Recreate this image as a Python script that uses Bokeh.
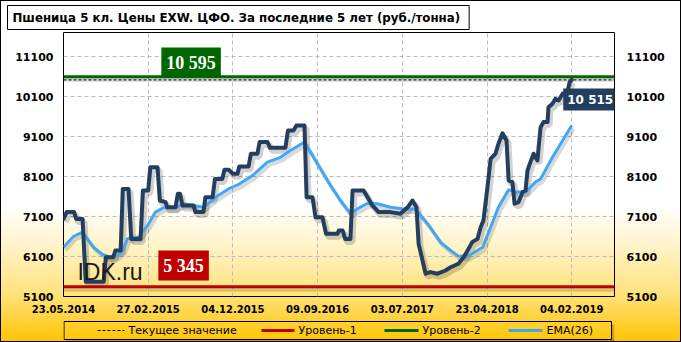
from bokeh.plotting import figure
from bokeh.layouts import column
from bokeh.models import Range1d, FixedTicker, LinearAxis, Label
from bokeh.core.properties import value
from bokeh.embed import file_html
from bokeh.resources import INLINE

# ---------------- data ----------------
title_text = "Пшеница  5 кл. Цены EXW. ЦФО. За последние 5 лет (руб./тонна)"

# observation index (category axis, every 40th observation labelled)
x_ticks = [0, 40, 80, 120, 160, 200, 240]
x_labels = ["23.05.2014", "27.02.2015", "04.12.2015", "09.09.2016",
            "03.07.2017", "23.04.2018", "04.02.2019"]
y_ticks = [5100, 6100, 7100, 8100, 9100, 10100, 11100]

price_idx = [0, 1.5, 5, 6, 9, 10.5, 19, 20, 23.5, 24.5,
             27, 28, 30.7, 32, 36.4, 37.5, 40, 41, 44.4, 45.5,
             48.2, 49, 52.9, 54, 55, 56.2, 61.4, 62.3, 66.1, 67,
             70.4, 71.5, 75, 76, 78, 80, 82.2, 83, 87.4, 88.5,
             91.6, 92.6, 96.3, 97.5, 104.8, 106, 108.6, 110, 113.8, 114.8,
             117.6, 119, 122.3, 124, 129.4, 130, 131.8, 133, 135.5, 136.5,
             141.7, 143.6, 145.9, 148.8, 154.4, 159.1, 162.5, 164.8, 166.7, 167.7,
             171, 173.3, 176.6, 180.4, 182.8, 186.5, 188.9, 190, 193, 195.5,
             197, 198.3, 200.2, 201.7, 204, 205.4, 207.3, 209.2, 210.2, 212,
             213, 214.9, 216.8, 218.2, 219.1, 220.5, 222, 223.8, 224.3, 225.3,
             226.7, 228.6, 229, 230.9, 232.3, 233.8, 235.7, 238, 239, 240]
price_val = [7040, 7210, 7210, 7040, 7040, 5470, 5470, 6080, 6080, 6250,
             6250, 7790, 7790, 6540, 6540, 7750, 7750, 8330, 8330, 7500,
             7460, 7330, 7330, 7670, 7670, 7375, 7375, 7210, 7210, 7580,
             7580, 8040, 8040, 8270, 8270, 8170, 8170, 8350, 8350, 8670,
             8670, 8960, 8960, 8820, 8820, 9250, 9250, 9375, 9375, 7580,
             7580, 7080, 7080, 6670, 6670, 6750, 6750, 6540, 6540, 7750,
             7750, 7580, 7375, 7210, 7210, 7170, 7330, 7500, 7330, 6420,
             5670, 5710, 5670, 5750, 5830, 5920, 6080, 6170, 6460, 6540,
             6830, 7000, 7830, 8540, 8670, 8920, 9180, 9000, 8000, 7960,
             7420, 7460, 7710, 7750, 8250, 8460, 8670, 8500, 8790, 9330,
             9460, 9460, 9830, 9920, 10040, 10000, 10170, 10210, 10460, 10515]

ema_idx = [0, 4.7, 9, 11.3, 14.2, 18.4, 22.2, 25.5, 27.9, 30.2,
           32.6, 35.4, 39.7, 43.4, 47.2, 52.9, 56.7, 61.4, 66.1, 71.8,
           77.9, 82.6, 89.3, 96.3, 102.5, 107.2, 113.8, 120.4, 126.1, 130.8,
           135.5, 138.8, 143.6, 148.3, 154.4, 160.6, 166.2, 171.9, 178, 182.8,
           186.5, 190.8, 197.9, 201.7, 205.4, 210.2, 213.5, 218.2, 222.9, 225.3,
           230.9, 235.7, 240]
ema_val = [6330, 6600, 6710, 6540, 6330, 6150, 6080, 6125, 6250, 6540,
           6580, 6580, 6875, 7210, 7320, 7320, 7420, 7375, 7330, 7580,
           7790, 7900, 8125, 8460, 8580, 8750, 8960, 8375, 7875, 7500,
           7170, 7290, 7430, 7420, 7330, 7290, 7290, 6920, 6460, 6250,
           6110, 6100, 6330, 6830, 7330, 7770, 7710, 7710, 7960, 8040,
           8580, 9000, 9375]

current_value = 10515
level_1 = 5345
level_2 = 10595
series_names = ["Текущее значение", "Уровень-1", "Уровень-2", "EMA(26)"]

# ---------------- layout / style ----------------
X_MAX = 260.2
Y_MIN, Y_MAX = 5100, 11700
FRAME_L, FRAME_R = 63, 614
FRAME_W, FRAME_H = FRAME_R - FRAME_L, 264
DX = X_MAX / FRAME_W            # index units per pixel
DY = (Y_MAX - Y_MIN) / FRAME_H  # value units per pixel

NAVY = "#233E5F"
BLUE = "#41A6F4"
RED = "#C00000"
GREEN = "#006600"

p = figure(width=681, height=318, output_backend="svg", toolbar_location=None,
           x_range=Range1d(0, X_MAX), y_range=Range1d(Y_MIN, Y_MAX),
           min_border_left=FRAME_L, min_border_right=681 - FRAME_R,
           min_border_top=32, min_border_bottom=22)
p.border_fill_color = None
p.background_fill_color = None
p.outline_line_color = "black"
p.outline_line_width = 1

# title (boxed, top-left)
p.title.text = title_text
p.title.align = "left"
p.title.offset = -56
p.title.standoff = 6
p.title.text_font = "DejaVu Sans"
p.title.text_font_size = "11.8px"
p.title.text_font_style = "bold"
p.title.text_color = "black"
p.title.background_fill_color = "white"
p.title.border_line_color = "black"
p.title.padding = 5

# grid
p.xgrid.ticker = FixedTicker(ticks=x_ticks)
p.ygrid.ticker = FixedTicker(ticks=y_ticks)
for g in (p.xgrid, p.ygrid):
    g.grid_line_color = "#BBBBBB"
    g.grid_line_dash = "4 3"
    g.grid_line_width = 1

# axes
p.add_layout(LinearAxis(), "right")
p.xaxis.ticker = FixedTicker(ticks=x_ticks)
p.xaxis.major_label_overrides = {t: l for t, l in zip(x_ticks, x_labels)}
for ax in p.yaxis:
    ax.ticker = FixedTicker(ticks=y_ticks)
for ax in list(p.xaxis) + list(p.yaxis):
    ax.axis_line_color = None
    ax.major_tick_line_color = None
    ax.minor_tick_line_color = None
    ax.major_tick_out = 0
    ax.major_tick_in = 0
    ax.major_label_text_font = "DejaVu Sans"
    ax.major_label_text_font_style = "bold"
    ax.major_label_text_color = "black"
p.xaxis.major_label_text_font_size = "10px"
p.xaxis.major_label_standoff = 8
for ax in p.yaxis:
    ax.major_label_text_font_size = "11px"
p.yaxis[0].major_label_standoff = 10
p.yaxis[1].major_label_standoff = 12

# shadows
sh_dx, sh_dy = 2 * DX, 3 * DY
p.line([x + sh_dx for x in price_idx], [v - sh_dy for v in price_val],
       line_color="black", line_alpha=0.18, line_width=6)
p.line([x + sh_dx for x in ema_idx], [v - sh_dy for v in ema_val],
       line_color="black", line_alpha=0.15, line_width=4)
for lv in (level_1, level_2):
    p.line([0, X_MAX], [lv - sh_dy, lv - sh_dy], line_color="black",
           line_alpha=0.15, line_width=4)

# level lines
p.line([0, X_MAX], [level_1, level_1], line_color=RED, line_width=3)
p.line([0, X_MAX], [level_2, level_2], line_color=GREEN, line_width=3)
p.line([0, X_MAX], [current_value, current_value], line_color="black",
       line_width=1, line_dash="3 2")

# series
p.line(ema_idx, ema_val, line_color=BLUE, line_width=3, line_join="round")
p.line(price_idx, price_val, line_color=NAVY, line_width=4, line_join="round",
       line_cap="round")

# watermark
p.add_layout(Label(x=6.6, y=5725, text="IDK.ru", text_font="Liberation Sans",
                   text_font_size="23px", text_color="#1A1A1A",
                   text_baseline="middle", text_align="left"))


def boxed(x, y, text, fill, font, size, pad):
    sh = Label(x=x, y=y, text=text, text_font=font, text_font_size=size,
               text_font_style="bold", text_alpha=0,
               text_baseline="middle", text_align="left",
               background_fill_color="black", background_fill_alpha=0.3,
               padding=pad, x_offset=3, y_offset=-3)
    lb = Label(x=x, y=y, text=text, text_font=font, text_font_size=size,
               text_font_style="bold", text_color="white",
               text_baseline="middle", text_align="left",
               background_fill_color=fill, padding=pad)
    p.add_layout(sh)
    p.add_layout(lb)


fmt = lambda v: f"{v:,}".replace(",", " ")
boxed(46.2, 10950, fmt(level_2), GREEN, "Liberation Serif", "18px", 5)
boxed(44.8, 5875, fmt(level_1), RED, "Liberation Serif", "18px", 5)
boxed(236.0, 10025, fmt(current_value), NAVY, "DejaVu Sans", "12px", 4)

# ---------------- legend strip (second figure; its frame is aligned with
# the main frame by the column layout, so x data = page pixels) ----------------
LH = 24
q = figure(width=681, height=LH, output_backend="svg", toolbar_location=None,
           x_range=Range1d(FRAME_L, FRAME_R), y_range=Range1d(0, LH),
           x_axis_type=None, y_axis_type=None,
           min_border_left=FRAME_L, min_border_right=681 - FRAME_R,
           min_border_top=0, min_border_bottom=0)
q.border_fill_color = None
q.background_fill_color = None
q.outline_line_color = None
q.grid.visible = False

# legend frame with drop shadow
q.quad(left=[611, 66], right=[614, 614], bottom=[0, 0], top=[18, 3],
       fill_color="black", fill_alpha=0.2, line_color=None)
q.quad(left=[63.5], right=[611], bottom=[3], top=[21], fill_color=None,
       line_color="black", line_width=1)

# legend entries: (glyph start, glyph end, label start) in page pixels
leg_x0 = [97, 261, 384, 508]
leg_x1 = [124, 294, 418, 542]
leg_tx = [128, 298, 422, 546]
leg_colors = ["black", RED, GREEN, BLUE]
LY = 12
q.line([leg_x0[0], leg_x1[0]], [LY, LY], line_color=leg_colors[0],
       line_width=1, line_dash="3 2")
for i in range(1, 4):
    q.line([leg_x0[i], leg_x1[i]], [LY, LY], line_color=leg_colors[i],
           line_width=3)
q.text(x=leg_tx, y=[LY] * 4, text=series_names, text_font=value("DejaVu Sans"),
       text_font_size="11px", text_color="black", text_baseline="middle",
       text_align="left")

layout = column(p, q, spacing=0, styles={
    "background": "linear-gradient(to bottom, #FFFFFF 0%, #FFFFFF 60%, #FFF3C8 72%, #FFE27A 86%, #FFC400 100%)",
    "outline": "1px solid black",
    "outline-offset": "-1px",
})

open("out.html", "w").write(file_html(layout, INLINE))
